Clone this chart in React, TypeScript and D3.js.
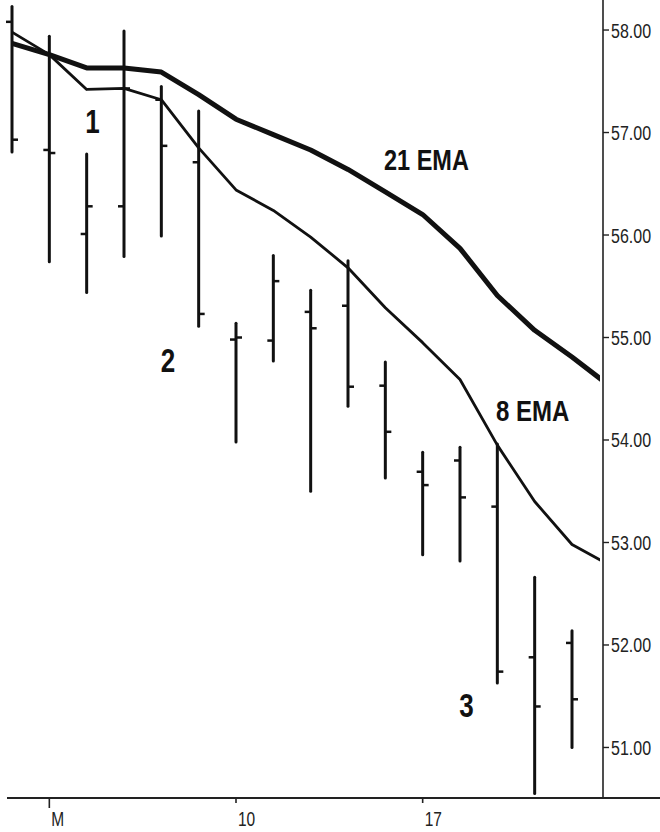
import React from "react";
import * as d3 from "d3";

// ---- Data ----
const barIndex = [0, 1, 2, 3, 4, 5, 6, 7, 8, 9, 10, 11, 12, 13, 14, 15];
const opens = [58.08, 56.83, 56.01, 56.28, 57.32, 56.71, 54.98, 54.97, 55.25, 55.31, 54.53, 53.69, 53.8, 53.35, 51.88, 52.02];
const highs = [58.23, 57.94, 56.79, 57.99, 57.45, 57.21, 55.14, 55.8, 55.46, 55.75, 54.76, 53.88, 53.93, 53.96, 52.66, 52.14];
const lows = [56.81, 55.74, 55.44, 55.79, 55.99, 55.11, 53.98, 54.77, 53.5, 54.33, 53.63, 52.88, 52.82, 51.63, 50.55, 51.0];
const closes = [56.93, 56.8, 56.28, 57.43, 56.87, 55.23, 55.0, 55.55, 55.09, 54.52, 54.08, 53.56, 53.44, 51.74, 51.4, 51.47];

// EMA values per bar (last value is the next bar, clipped at plot edge)
const ema21 = [57.87, 57.76, 57.63, 57.63, 57.59, 57.37, 57.13, 56.98, 56.83, 56.64, 56.42, 56.2, 55.87, 55.41, 55.07, 54.81, 54.53];
const ema8 = [57.98, 57.76, 57.42, 57.43, 57.32, 56.85, 56.44, 56.24, 55.98, 55.68, 55.29, 54.95, 54.59, 53.95, 53.4, 52.98, 52.78];

const xTickIndex = [1, 6, 11];
const xTickLabels = ["M", "10", "17"];
const xTickLong = [true, false, false];
const yTicks = [51, 52, 53, 54, 55, 56, 57, 58];

// ---- Layout ----
const W = 660;
const H = 832;
const axisY = 798;
const axisX = 603;
const plotRight = 600;

const FONT = "'Liberation Sans', Arial, Helvetica, sans-serif";

export default function App() {
  const x = d3.scaleLinear().domain([0, 15]).range([12, 572]);
  const y = d3.scaleLinear().domain([50.507, 58.293]).range([axisY, 0]);

  const lineGen = d3
    .line<number>()
    .x((_, i) => x(i))
    .y((d) => y(d))
    .curve(d3.curveLinear);

  const tick = 6;

  return (
    <svg
      width={W}
      height={H}
      viewBox={`0 0 ${W} ${H}`}
      style={{ position: "absolute", left: 0, top: 0, background: "#fff" }}
    >
      <defs>
        <clipPath id="plotClip">
          <rect x={0} y={0} width={plotRight} height={axisY} />
        </clipPath>
      </defs>
      <rect x={0} y={0} width={W} height={H} fill="#fff" />

      {/* OHLC bars */}
      <g stroke="#111" strokeWidth={3} fill="none">
        {barIndex.map((i) => (
          <g key={i}>
            <line x1={x(i)} x2={x(i)} y1={y(highs[i])} y2={y(lows[i])} strokeLinecap="round" />
            <line x1={x(i) - tick} x2={x(i)} y1={y(opens[i])} y2={y(opens[i])} strokeWidth={2.5} />
            <line x1={x(i)} x2={x(i) + tick} y1={y(closes[i])} y2={y(closes[i])} strokeWidth={2.5} />
          </g>
        ))}
      </g>

      {/* EMA lines */}
      <g clipPath="url(#plotClip)" fill="none" stroke="#111" strokeLinejoin="round">
        <path d={lineGen(ema21) || ""} strokeWidth={5} />
        <path d={lineGen(ema8) || ""} strokeWidth={2.8} />
      </g>

      {/* Right axis */}
      <line x1={axisX} x2={axisX} y1={0} y2={axisY} stroke="#222" strokeWidth={1.6} />
      {yTicks.map((t) => (
        <g key={t}>
          <line x1={axisX} x2={axisX + 6} y1={y(t)} y2={y(t)} stroke="#222" strokeWidth={1.4} />
          <text
            transform={`translate(${axisX + 8},${y(t) + 7.5}) scale(1,1.3)`}
            fontFamily={FONT}
            fontSize={16}
            fill="#222"
          >
            {t.toFixed(2)}
          </text>
        </g>
      ))}

      {/* Bottom axis */}
      <line x1={7} x2={W} y1={axisY} y2={axisY} stroke="#222" strokeWidth={2.2} />
      {xTickIndex.map((idx, k) => (
        <g key={idx}>
          <line
            x1={x(idx)}
            x2={x(idx)}
            y1={axisY}
            y2={axisY + (xTickLong[k] ? 10 : 5)}
            stroke="#222"
            strokeWidth={1.6}
          />
          <text
            transform={`translate(${x(idx) + 2},${826}) scale(1,1.27)`}
            fontFamily={FONT}
            fontSize={15.5}
            fill="#222"
          >
            {xTickLabels[k]}
          </text>
        </g>
      ))}

      {/* Annotations */}
      <g fontFamily={FONT} fill="#111" fontWeight="bold">
        <text transform="translate(384,170) scale(1,1.25)" fontSize={23.5}>21 EMA</text>
        <text transform="translate(496,421) scale(1,1.25)" fontSize={24}>8 EMA</text>
        <text transform="translate(92.5,133) scale(1,1.25)" fontSize={26} textAnchor="middle">1</text>
        <text transform="translate(168,372) scale(1,1.25)" fontSize={26} textAnchor="middle">2</text>
        <text transform="translate(466.5,717) scale(1,1.25)" fontSize={26} textAnchor="middle">3</text>
      </g>
    </svg>
  );
}
